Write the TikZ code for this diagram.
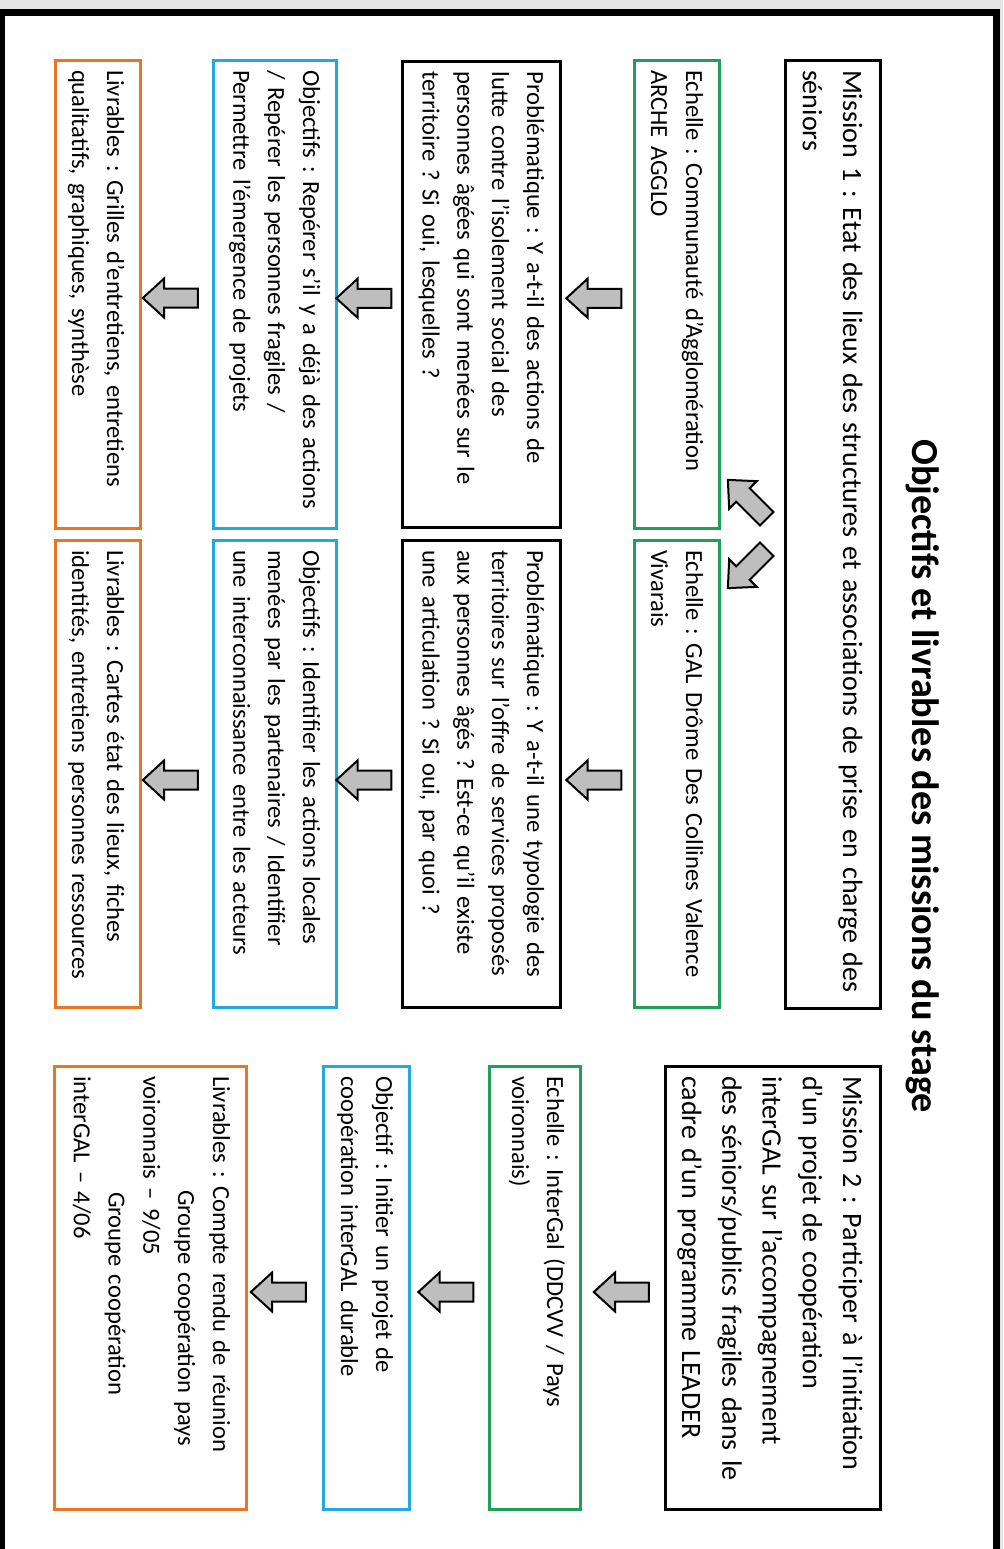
\documentclass[tikz,border=0pt]{standalone}
\usepackage{fontspec}
\setmainfont{Carlito}
\usetikzlibrary{shapes.arrows,calc}
\definecolor{bxgreen}{RGB}{30,160,90}
\definecolor{bxblue}{RGB}{35,170,220}
\definecolor{bxorange}{RGB}{232,118,36}
\definecolor{arrgrey}{RGB}{190,190,190}
\definecolor{bggrey}{RGB}{228,228,228}
\newcommand{\Lx}[1]{\mbox{#1}}
\begin{document}
\frenchspacing
\hyphenpenalty=10000
\exhyphenpenalty=10000
\hfuzz=20pt
\begin{tikzpicture}[x=0.5pt,y=-0.5pt,
  boxbase/.style={rotate=-90, draw=black, line width=1.5pt, fill=white,
    inner xsep=5pt, inner ysep=0pt, outer sep=0pt, align=left},
  bigtxt/.style={boxbase, font=\fontsize{14pt}{20.1pt}\selectfont, text height=18.5pt},
  smalltxt/.style={boxbase, font=\fontsize{12.3pt}{17.4pt}\selectfont, text height=16.5pt},
  greenbox/.style={smalltxt, draw=bxgreen},
  blackbox/.style={smalltxt, draw=black},
  bluebox/.style={smalltxt, draw=bxblue},
  orangebox/.style={smalltxt, draw=bxorange},
  barrow/.style={single arrow, draw=black, fill=arrgrey, line width=1pt,
    minimum height=27.5pt, minimum width=1pt, inner xsep=0pt, inner ysep=4.25pt,
    single arrow head extend=5pt, single arrow tip angle=85,
    text height=0pt, text depth=0pt, outer sep=0pt}
]
\useasboundingbox (0,0) rectangle (1003,1549);
\clip (0,0) rectangle (1003,1549);
% page background and frame
\fill[bggrey] (0,0) rectangle (1003,1549);
\fill[white] (1.5,12) rectangle (996,1570);
\draw[line width=3.5pt] (1.5,1570) -- (1.5,12) -- (996,12) -- (996,1570);

% title
\node[rotate=-90, anchor=base west, inner sep=0pt,
  font=\bfseries\fontsize{19.1pt}{23pt}\selectfont] (title) at (912,439)
  {Objectifs et livrables des missions du stage};

% ---------- Mission 1 ----------
\node[bigtxt, minimum width=474pt, minimum height=47.5pt, text width=464pt, text depth=29pt]
  (m1) at (832.5,534)
  {\Lx{Mission 1 : Etat des lieux des structures et associations de prise en charge des}\\\Lx{séniors}};

% column 1
\node[greenbox, minimum width=234pt, minimum height=42.5pt, text width=224pt, text depth=26pt]
  (e1) at (676.5,294)
  {\Lx{Echelle : Communauté d’Agglomération}\\\Lx{ARCHE AGGLO}};
\node[blackbox, minimum width=233pt, minimum height=79pt, text width=223pt, text depth=62.5pt]
  (p1) at (481,294.5)
  {\Lx{Problématique : Y a-t-il des actions de}\\\Lx{lutte contre l’isolement social des}\\\Lx{personnes âgées qui sont menées sur le}\\\Lx{territoire ? Si oui, lesquelles ?}};
\node[bluebox, minimum width=234pt, minimum height=61.5pt, text width=224pt, text depth=45pt]
  (o1) at (274.5,294)
  {\Lx{Objectifs : Repérer s’il y a déjà des actions}\\\Lx{/ Repérer les personnes fragiles /}\\\Lx{Permettre l’émergence de projets}};
\node[orangebox, minimum width=234pt, minimum height=42.5pt, text width=224pt, text depth=26pt]
  (l1) at (97.5,294)
  {\Lx{Livrables : Grilles d’entretiens, entretiens}\\\Lx{qualitatifs, graphiques, synthèse}};

% column 2
\node[greenbox, minimum width=233.5pt, minimum height=42.5pt, text width=223.5pt, text depth=26pt]
  (e2) at (676.5,773.5)
  {\Lx{Echelle : GAL Drôme Des Collines Valence}\\\Lx{Vivarais}};
\node[blackbox, minimum width=233.5pt, minimum height=79pt, text width=223.5pt, text depth=62.5pt]
  (p2) at (481,773.5)
  {\Lx{Problématique : Y a-t-il une typologie des}\\\Lx{territoires sur l’offre de services proposés}\\\Lx{aux personnes âgés ? Est-ce qu’il existe}\\\Lx{une articulation ? Si oui, par quoi ?}};
\node[bluebox, minimum width=233.5pt, minimum height=61.5pt, text width=223.5pt, text depth=45pt]
  (o2) at (274.5,773.5)
  {\Lx{Objectifs : Identifier les actions locales}\\\Lx{menées par les partenaires / Identifier}\\\Lx{une interconnaissance entre les acteurs}};
\node[orangebox, minimum width=233.5pt, minimum height=42.5pt, text width=223.5pt, text depth=26pt]
  (l2) at (97.5,773.5)
  {\Lx{Livrables : Cartes état des lieux, fiches}\\\Lx{identités, entretiens personnes ressources}};

% ---------- Mission 2 (column 3) ----------
\node[bigtxt, minimum width=221.5pt, minimum height=107.5pt, text width=211.5pt, text depth=89pt]
  (m2) at (772.5,1287.5)
  {\Lx{Mission 2 : Participer à l’initiation}\\\Lx{d’un projet de coopération}\\\Lx{interGAL sur l’accompagnement}\\\Lx{des séniors/publics fragiles dans le}\\\Lx{cadre d’un programme LEADER}};
\node[greenbox, minimum width=221.5pt, minimum height=45.5pt, text width=211.5pt, text depth=29pt]
  (e3) at (534.5,1287.5)
  {\Lx{Echelle : InterGal (DDCVV / Pays}\\\Lx{voironnais)}};
\node[bluebox, minimum width=221.5pt, minimum height=43pt, text width=211.5pt, text depth=26.5pt]
  (o3) at (366,1287.5)
  {\Lx{Objectif : Initier un projet de}\\\Lx{coopération interGAL durable}};
\node[orangebox, minimum width=221.5pt, minimum height=96pt, text width=211.5pt, text depth=79.5pt]
  (l3) at (150,1287.5)
  {\Lx{Livrables : Compte rendu de réunion}\\\hspace*{57pt}\Lx{Groupe coopération pays}\\\Lx{voironnais – 9/05}\\\hspace*{58pt}\Lx{Groupe coopération}\\\Lx{interGAL – 4/06}};

% ---------- block arrows ----------
\node[barrow, rotate=135] (d1) at ($(m1.south)+(-34,-31)$) {};
\node[barrow, rotate=225] (d2) at ($(m1.south)+(-34,31)$) {};

\node[barrow, rotate=180] (a11) at ($(e1.south)!0.5!(p1.north)+(2,4)$) {};
\node[barrow, rotate=180] (a12) at ($(p1.south)!0.5!(o1.north)+(0,4)$) {};
\node[barrow, rotate=180] (a13) at ($(o1.south)!0.5!(l1.north)+(-1,4)$) {};

\node[barrow, rotate=180] (a21) at ($(e2.south)!0.5!(p2.north)+(2,6.5)$) {};
\node[barrow, rotate=180] (a22) at ($(p2.south)!0.5!(o2.north)+(0,6.5)$) {};
\node[barrow, rotate=180] (a23) at ($(o2.south)!0.5!(l2.north)+(-1,6.5)$) {};

\node[barrow, rotate=180] (a31) at ($(m2.south)!0.5!(e3.north)+(4,4.5)$) {};
\node[barrow, rotate=180] (a32) at ($(e3.south)!0.5!(o3.north)+(2,4.5)$) {};
\node[barrow, rotate=180] (a33) at ($(o3.south)!0.5!(l3.north)+(-1,4.5)$) {};
\end{tikzpicture}
\end{document}
